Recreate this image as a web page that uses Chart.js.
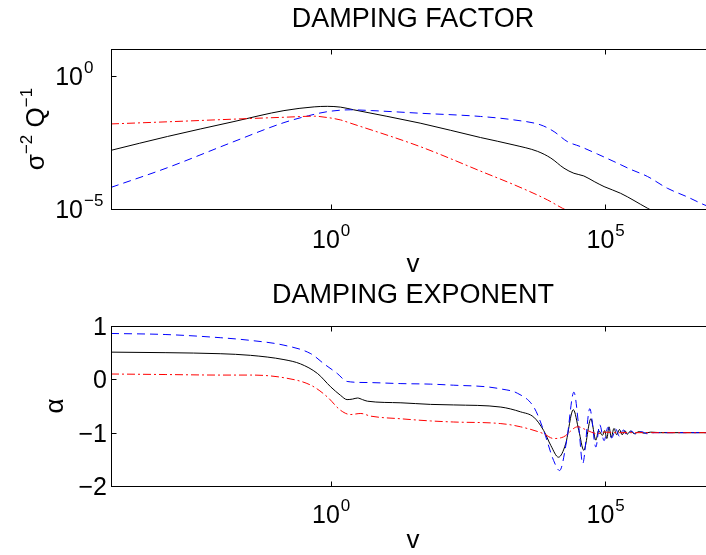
<!DOCTYPE html>
<html>
<head>
<meta charset="utf-8">
<script src="https://cdn.jsdelivr.net/npm/chart.js@4.4.1/dist/chart.umd.min.js"></script>
<style>
  html, body { margin:0; padding:0; background:#fff; overflow:hidden; width:706px; height:555px; }
  canvas { position:absolute; left:0; }
  #top { top:0; }
  #bottom { top:280px; }
</style>
</head>
<body>
<canvas id="top" width="730" height="280"></canvas>
<canvas id="bottom" width="730" height="275"></canvas>
<script>
// ---- data (log10 of v, log10 of the values) ----
// top panel: damping factor sigma^-2 Q^-1
const factorBlackV = [-4, -2.97, -1.76, -0.85, -0.30, -0.06, 0.18, 0.42, 1.63, 2.73, 3.34, 3.77, 4.01, 4.25, 4.43, 4.61, 4.80, 4.98, 5.28, 5.77, 7];
const factorBlackQ = [-2.80, -2.28, -1.72, -1.31, -1.17, -1.15, -1.18, -1.28, -1.78, -2.32, -2.60, -2.84, -3.09, -3.47, -3.66, -3.76, -3.97, -4.16, -4.41, -4.97, -6.3];
const factorBlueV  = [-4, -2.97, -1.76, -0.85, -0.40, -0.06, 0.36, 0.75, 1.64, 2.73, 3.34, 3.83, 4.07, 4.31, 4.55, 4.86, 5.16, 5.46, 5.77, 6.13, 6.50, 6.80, 7];
const factorBlueQ  = [-4.19, -3.45, -2.47, -1.76, -1.50, -1.35, -1.28, -1.31, -1.41, -1.53, -1.66, -1.85, -2.10, -2.47, -2.66, -2.94, -3.22, -3.51, -3.78, -4.22, -4.55, -4.84, -5.0];
const factorRedV   = [-4, -2.97, -1.76, -0.85, -0.30, -0.06, 0.18, 0.36, 1.63, 2.79, 3.34, 3.95, 4.22, 7];
const factorRedQ   = [-1.81, -1.73, -1.63, -1.56, -1.52, -1.57, -1.66, -1.78, -2.66, -3.63, -4.09, -4.66, -4.97, -7.6];

// bottom panel: damping exponent alpha
const expBlackV = [-4, -3, -2, -1.46, -0.85, -0.55, -0.24, 0, 0.18, 0.30, 0.40, 0.49, 0.58, 0.67, 1.28, 1.82, 2.24, 3.10, 3.46, 3.70, 3.88, 4.01, 4.15, 4.28, 4.42, 4.52, 4.61, 4.74, 4.83, 4.88, 4.95, 4.99, 5.03, 5.07, 5.11, 5.16, 5.21, 5.26, 5.31, 5.36, 5.40, 5.46, 5.53, 5.62, 5.71, 5.83, 6.01, 7];
const expBlackA = [0.51, 0.50, 0.48, 0.45, 0.37, 0.29, 0.11, -0.14, -0.30, -0.38, -0.37, -0.35, -0.38, -0.41, -0.44, -0.47, -0.48, -0.52, -0.61, -0.71, -0.96, -1.24, -1.46, -1.21, -0.57, -0.96, -1.33, -0.74, -1.14, -0.96, -1.05, -0.96, -1.11, -0.89, -1.09, -0.92, -1.04, -0.94, -1.04, -0.96, -1.03, -0.97, -1.02, -0.98, -1.01, -0.99, -1.0, -1.0];
const expBlueV = [-4, -3, -2, -1.46, -0.85, -0.36, -0.12, 0.12, 0.30, 0.67, 1.28, 1.82, 2.24, 2.84, 3.10, 3.40, 3.70, 3.88, 4.06, 4.17, 4.30, 4.43, 4.52, 4.59, 4.72, 4.83, 4.90, 4.98, 5.05, 5.12, 5.19, 5.26, 5.33, 5.40, 5.48, 5.56, 5.66, 5.76, 5.90, 7];
const expBlueA = [0.86, 0.84, 0.78, 0.73, 0.64, 0.48, 0.29, 0.11, -0.04, -0.06, -0.08, -0.09, -0.11, -0.14, -0.18, -0.26, -0.52, -0.96, -1.52, -1.71, -1.14, -0.24, -0.90, -1.58, -0.55, -1.27, -0.85, -1.15, -0.90, -1.10, -0.93, -1.07, -0.95, -1.05, -0.97, -1.03, -0.98, -1.02, -1.0, -1.0];
const expRedV = [-4, -3, -2, -1.46, -0.85, -0.36, -0.06, 0.18, 0.36, 0.55, 0.73, 1.28, 1.82, 2.24, 3.10, 3.46, 3.88, 4.06, 4.24, 4.50, 4.68, 4.85, 5.0, 5.2, 7];
const expRedA = [0.10, 0.09, 0.08, 0.08, 0.03, -0.11, -0.33, -0.58, -0.66, -0.64, -0.69, -0.74, -0.78, -0.80, -0.83, -0.89, -1.02, -1.11, -1.08, -0.89, -0.96, -1.02, -0.99, -1.0, -1.0];

// axes
const xTicks = [1e0, 1e5];
const xTickExp = ['0', '5'];
const topYTicks = [1e-5, 1e0];
const topYTickExp = ['\u22125', '0'];
const botYTicks = [-2, -1, 0, 1];
const botYTickLabels = ['\u22122', '\u22121', '0', '1'];

const FONT = '"Liberation Sans", Arial, Helvetica, sans-serif';

function pts(xs, ys, logY){
  return xs.map((x, i) => ({ x: Math.pow(10, x), y: logY ? Math.pow(10, ys[i]) : ys[i] }));
}

function line(data, color, dash){
  return { data, borderColor: color, borderWidth: 1, borderDash: dash, pointRadius: 0,
           fill: false, cubicInterpolationMode: 'monotone' };
}

// draws e.g. 10^5 with a raised exponent
function drawPow(ctx, x, y, base, exp, align){
  ctx.font = '25px ' + FONT;
  const wb = ctx.measureText(base).width;
  ctx.font = '17px ' + FONT;
  const we = ctx.measureText(exp).width;
  let x0 = x;
  if(align === 'center') x0 = x - (wb + we) / 2;
  else if(align === 'right') x0 = x - wb;
  ctx.textAlign = 'left';
  ctx.textBaseline = 'alphabetic';
  ctx.font = '25px ' + FONT;
  ctx.fillText(base, x0, y);
  ctx.font = '17px ' + FONT;
  ctx.fillText(exp, x0 + wb + 1, y - 12);
}

function decor(cfg){
  return {
    id: 'decor',
    afterDraw(chart){
      const {ctx, chartArea: a, scales} = chart;
      ctx.save();
      ctx.strokeStyle = '#000';
      ctx.fillStyle = '#000';
      ctx.lineWidth = 1;
      const L = Math.round(a.left) + 0.5, T = Math.round(a.top) + 0.5;
      const R = Math.round(a.right) + 0.5, B = Math.round(a.bottom) + 0.5;
      ctx.strokeRect(L, T, R - L, B - T);
      // inward tick marks
      ctx.beginPath();
      xTicks.forEach(v => {
        const px = Math.round(scales.x.getPixelForValue(v)) + 0.5;
        ctx.moveTo(px, B); ctx.lineTo(px, B - 5);
        ctx.moveTo(px, T); ctx.lineTo(px, T + 5);
      });
      cfg.yTicks.forEach(v => {
        const py = Math.round(scales.y.getPixelForValue(v)) + 0.5;
        ctx.moveTo(L, py); ctx.lineTo(L + 5, py);
        ctx.moveTo(R, py); ctx.lineTo(R - 5, py);
      });
      ctx.stroke();
      // x tick labels
      xTicks.forEach((v, i) => {
        drawPow(ctx, scales.x.getPixelForValue(v), cfg.xLabelY, '10', xTickExp[i], 'center');
      });
      // y tick labels
      cfg.yTicks.forEach((v, i) => {
        const py = scales.y.getPixelForValue(v);
        if(cfg.logY){
          drawPow(ctx, a.left - 28, py + 9, '10', cfg.yExp[i], 'right');
        } else {
          ctx.font = '25px ' + FONT;
          ctx.textAlign = 'right';
          ctx.textBaseline = 'alphabetic';
          ctx.fillText(cfg.yLabels[i], a.left - 4, py + 9);
        }
      });
      const cx = (a.left + a.right) / 2;
      // title and x label
      ctx.textAlign = 'center';
      ctx.textBaseline = 'alphabetic';
      ctx.font = '27px ' + FONT;
      ctx.fillText(cfg.title, cx, cfg.titleY);
      ctx.font = '26px ' + FONT;
      ctx.fillText('v', cx, cfg.vY);
      // rotated y label
      ctx.translate(cfg.yTitleX, (a.top + a.bottom) / 2);
      ctx.rotate(-Math.PI / 2);
      const parts = cfg.yTitle;
      let total = 0;
      parts.forEach(p => { ctx.font = (p[1] ? '17px ' : '26px ') + FONT; p.w = ctx.measureText(p[0]).width; total += p.w; });
      let x = -total / 2;
      ctx.textAlign = 'left';
      parts.forEach(p => {
        ctx.font = (p[1] ? '17px ' : '26px ') + FONT;
        ctx.fillText(p[0], x, p[1] ? -12 : 0);
        x += p.w;
      });
      ctx.restore();
    }
  };
}

function makeChart(id, datasets, yScale, padding, cfg){
  return new Chart(document.getElementById(id), {
    type: 'line',
    data: { datasets },
    options: {
      responsive: false,
      animation: false,
      devicePixelRatio: 1,
      layout: { padding },
      plugins: { legend: { display: false }, tooltip: { enabled: false } },
      scales: {
        x: { type: 'logarithmic', min: 1e-4, max: 1e7, display: false },
        y: Object.assign({ display: false }, yScale)
      }
    },
    plugins: [decor(cfg)]
  });
}

makeChart('top', [
  line(pts(factorRedV, factorRedQ, true), '#ff0000', [8, 3, 2, 3]),
  line(pts(factorBlueV, factorBlueQ, true), '#0000ff', [8, 5]),
  line(pts(factorBlackV, factorBlackQ, true), '#000000', [])
], { type: 'logarithmic', min: 1e-5, max: 1e1 },
{ left: 111, top: 49, right: 15, bottom: 71 },
{ title: 'DAMPING FACTOR', titleY: 27, vY: 272, xLabelY: 248, logY: true,
  yTicks: topYTicks, yExp: topYTickExp, yTitleX: 44,
  yTitle: [['\u03c3', 0], ['\u22122', 1], [' Q', 0], ['\u22121', 1]] });

makeChart('bottom', [
  line(pts(expRedV, expRedA, false), '#ff0000', [8, 3, 2, 3]),
  line(pts(expBlueV, expBlueA, false), '#0000ff', [8, 5]),
  line(pts(expBlackV, expBlackA, false), '#000000', [])
], { type: 'linear', min: -2, max: 1 },
{ left: 111, top: 46, right: 15, bottom: 69 },
{ title: 'DAMPING EXPONENT', titleY: 23, vY: 268, xLabelY: 243, logY: false,
  yTicks: botYTicks, yLabels: botYTickLabels, yTitleX: 63,
  yTitle: [['\u03b1', 0]] });
</script>
</body>
</html>
